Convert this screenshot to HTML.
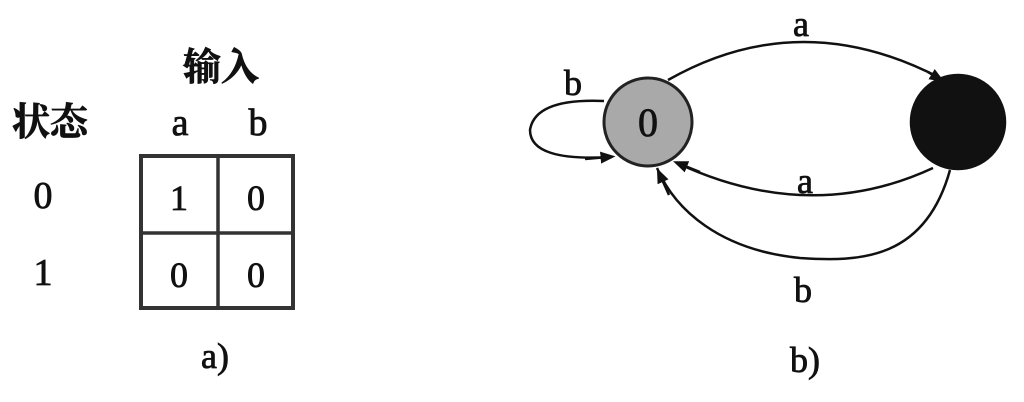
<!DOCTYPE html>
<html><head><meta charset="utf-8"><style>
html,body{margin:0;padding:0;background:#fff;}
svg{display:block;}
text{font-family:"Liberation Serif","Noto Serif CJK SC",serif;fill:#111;stroke:#111;stroke-width:0.8;}
.cj{font-family:"Liberation Serif","Noto Serif CJK SC",serif;font-weight:bold;}
</style></head><body>
<svg width="1024" height="402" viewBox="0 0 1024 402" xmlns="http://www.w3.org/2000/svg">
<defs><marker id="ar" viewBox="0 0 10 10" refX="5" refY="5" markerWidth="6" markerHeight="6" orient="auto"><path d="M0,1 L10,5 L0,9 z" fill="#111"/></marker></defs>
<g>
<text class="cj" x="221" y="80" font-size="38" text-anchor="middle">输入</text>
<text class="cj" x="50" y="135" font-size="38" text-anchor="middle">状态</text>
<text x="180" y="135" font-size="38" text-anchor="middle">a</text>
<text x="258" y="135" font-size="38" text-anchor="middle">b</text>
<text x="43" y="208" font-size="38" text-anchor="middle">0</text>
<text x="43" y="285" font-size="38" text-anchor="middle">1</text>
<rect x="141" y="156" width="152" height="152" fill="none" stroke="#333" stroke-width="4"/>
<line x1="218" y1="156" x2="218" y2="308" stroke="#333" stroke-width="3.5"/>
<line x1="141" y1="233" x2="293" y2="233" stroke="#333" stroke-width="3.5"/>
<text x="179" y="210" font-size="36" text-anchor="middle">1</text>
<text x="256" y="210" font-size="36" text-anchor="middle">0</text>
<text x="179" y="287" font-size="36" text-anchor="middle">0</text>
<text x="256" y="287" font-size="36" text-anchor="middle">0</text>
<text x="215" y="368" font-size="36" text-anchor="middle">a)</text>
</g>
<g fill="none" stroke="#111" stroke-width="2.5">
<path d="M668,80 Q800,5 940,78"/>
<path d="M928,72 L938,78" marker-end="url(#ar)"/>
<path d="M933,168 Q810,225 677,163"/>
<path d="M700,172 L680,164" marker-end="url(#ar)"/>
<path d="M950,170 C925,260 860,262 800,258 C720,250 675,210 657,168"/>
<path d="M669,195 L660,175" marker-end="url(#ar)"/>
<path d="M604,101 Q535,98 530,130 Q530,162 612,157"/>
<path d="M585,159 L608,157" marker-end="url(#ar)"/>
<circle cx="648" cy="122" r="44" fill="#a9a9a9" stroke="#222" stroke-width="3"/>
<circle cx="958" cy="122" r="47" fill="#111" stroke="#111"/>
</g>
<text x="648" y="136" font-size="40" text-anchor="middle">0</text>
<text x="801" y="36" font-size="36" text-anchor="middle">a</text>
<text x="805" y="193" font-size="36" text-anchor="middle">a</text>
<text x="803" y="302" font-size="36" text-anchor="middle">b</text>
<text x="573" y="95" font-size="36" text-anchor="middle">b</text>
<text x="805" y="372" font-size="36" text-anchor="middle">b)</text>
</svg>
</body></html>
